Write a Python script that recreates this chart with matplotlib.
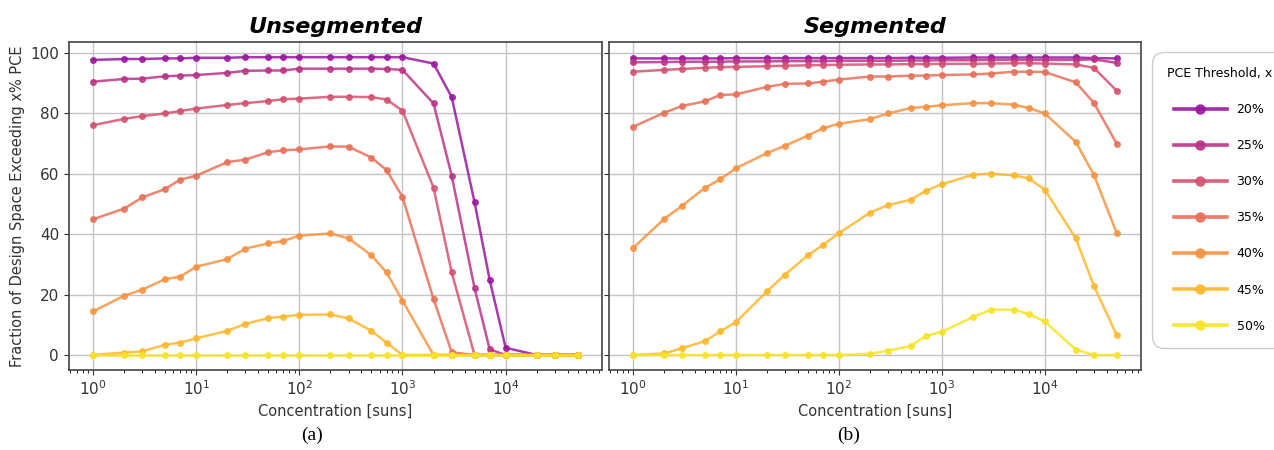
import matplotlib
matplotlib.use("Agg")
import matplotlib.pyplot as plt
import numpy as np

# concentration points [suns]
conc = [1, 2, 3, 5, 7, 10, 20, 30, 50, 70, 100, 200, 300, 500, 700,
        1000, 2000, 3000, 5000, 7000, 10000, 20000, 30000, 50000]

thresholds = ["20%", "25%", "30%", "35%", "40%", "45%", "50%"]

# unsegmented
u20 = [97.6, 97.9, 97.9, 98.1, 98.1, 98.3, 98.3, 98.5, 98.5, 98.5, 98.5, 98.5, 98.5, 98.5, 98.5, 98.5, 96.4, 85.3, 50.5, 24.9, 2.4, 0, 0, 0]
u25 = [90.4, 91.3, 91.4, 92.2, 92.4, 92.6, 93.3, 94.0, 94.1, 94.1, 94.7, 94.7, 94.7, 94.7, 94.6, 94.3, 83.2, 59.3, 22.1, 1.9, 0, 0, 0, 0]
u30 = [76.0, 78.1, 79.0, 79.9, 80.7, 81.5, 82.7, 83.3, 84.0, 84.6, 84.8, 85.4, 85.4, 85.3, 84.5, 80.8, 55.4, 27.3, 0, 0, 0, 0, 0, 0]
u35 = [44.9, 48.4, 52.1, 54.9, 58.0, 59.3, 63.8, 64.6, 67.1, 67.7, 68.0, 69.0, 68.9, 65.3, 61.2, 52.3, 18.5, 0.9, 0, 0, 0, 0, 0, 0]
u40 = [14.4, 19.6, 21.6, 25.1, 25.9, 29.2, 31.7, 35.2, 36.9, 37.7, 39.5, 40.2, 38.6, 33.0, 27.3, 18.0, 0, 0, 0, 0, 0, 0, 0, 0]
u45 = [0, 0.8, 1.2, 3.4, 4.1, 5.5, 8.0, 10.3, 12.2, 12.7, 13.3, 13.4, 12.1, 8.0, 4.1, 0, 0, 0, 0, 0, 0, 0, 0, 0]
u50 = [0, 0, 0, 0, 0, 0, 0, 0, 0, 0, 0, 0, 0, 0, 0, 0, 0, 0, 0, 0, 0, 0, 0, 0]

# segmented
s20 = [98.1, 98.1, 98.1, 98.1, 98.1, 98.2, 98.2, 98.2, 98.2, 98.2, 98.2, 98.2, 98.2, 98.3, 98.3, 98.3, 98.4, 98.4, 98.4, 98.4, 98.4, 98.4, 98.2, 98.1]
s25 = [96.8, 96.9, 97.0, 97.0, 97.0, 97.1, 97.1, 97.2, 97.2, 97.2, 97.3, 97.3, 97.3, 97.4, 97.4, 97.5, 97.5, 97.6, 97.6, 97.6, 97.6, 97.6, 97.8, 96.6]
s30 = [93.7, 94.3, 94.6, 95.0, 95.2, 95.3, 95.5, 95.7, 95.8, 95.9, 96.0, 96.1, 96.1, 96.2, 96.2, 96.3, 96.3, 96.4, 96.5, 96.5, 96.4, 96.1, 95.0, 87.4]
s35 = [75.5, 80.1, 82.4, 83.9, 86.0, 86.2, 88.7, 89.7, 89.8, 90.4, 91.1, 92.1, 92.1, 92.4, 92.4, 92.6, 92.8, 93.1, 93.7, 93.7, 93.6, 90.2, 83.4, 69.9]
s40 = [35.4, 45.0, 49.4, 55.3, 58.1, 61.8, 66.8, 69.2, 72.6, 75.0, 76.5, 78.0, 79.9, 81.7, 82.1, 82.6, 83.3, 83.3, 82.8, 81.7, 79.9, 70.5, 59.6, 40.4]
s45 = [0, 0.5, 2.3, 4.6, 7.8, 10.9, 21.1, 26.6, 33.0, 36.4, 40.3, 47.1, 49.6, 51.4, 54.3, 56.5, 59.6, 60.0, 59.4, 58.4, 54.7, 38.6, 22.9, 6.6]
s50 = [0, 0, 0, 0, 0, 0, 0, 0, 0, 0, 0, 0.4, 1.4, 3.0, 6.3, 7.7, 12.5, 15.0, 15.0, 13.5, 11.1, 1.8, 0, 0]

unseg = [u20, u25, u30, u35, u40, u45, u50]
seg = [s20, s25, s30, s35, s40, s45, s50]

colors = plt.cm.plasma(np.linspace(0.33, 0.95, 7))

plt.rcParams['font.family'] = 'DejaVu Sans'
fig = plt.figure(figsize=(12.74, 4.5), dpi=100)
ax1 = fig.add_axes([0.054, 0.178, 0.4185, 0.728])
ax2 = fig.add_axes([0.478, 0.178, 0.4175, 0.728], sharey=ax1)

for ax, data, title in [(ax1, unseg, "Unsegmented"), (ax2, seg, "Segmented")]:
    for k in range(len(data)):
        ax.plot(conc, data[k], "-o", color=colors[k], lw=1.8, ms=4, alpha=0.85,
                label=thresholds[k])
    ax.set_xscale("log")
    ax.grid(True, which="major", color="#c4c4c4", lw=1)
    ax.set_xlabel("Concentration [suns]", fontsize=10.5, color="#333333")
    ax.set_title(title, fontsize=16, fontweight="bold", style="italic", pad=7)
    ax.tick_params(labelsize=11, colors="#333333")
    for s in ax.spines.values():
        s.set_color("#444444")
        s.set_linewidth(1.2)

ax1.set_ylabel("Fraction of Design Space Exceeding x% PCE", fontsize=10.5, color="#333333")
ax1.set_yticks([0, 20, 40, 60, 80, 100])
plt.setp(ax2.get_yticklabels(), visible=False)

handles, labels = ax1.get_legend_handles_labels()
leg = fig.legend(handles, labels, title="PCE Threshold, x", loc="upper left",
                 bbox_to_anchor=(0.904, 0.885), borderaxespad=0, fontsize=9,
                 title_fontsize=9, handlelength=4.2, labelspacing=1.85,
                 borderpad=1.2, fancybox=True, framealpha=1, edgecolor="#cccccc")
leg.get_frame().set_boxstyle("round", pad=0, rounding_size=1.0)
for h in leg.get_lines():
    h.set_linewidth(2.6)
    h.set_markersize(6.5)
    h.set_alpha(0.9)

fig.text(312 / 1274, 1 - 435 / 450, "(a)", family="Liberation Serif", fontsize=14,
         ha="center", va="center")
fig.text(849 / 1274, 1 - 435 / 450, "(b)", family="Liberation Serif", fontsize=14,
         ha="center", va="center")

fig.savefig("out.png", dpi=100)
